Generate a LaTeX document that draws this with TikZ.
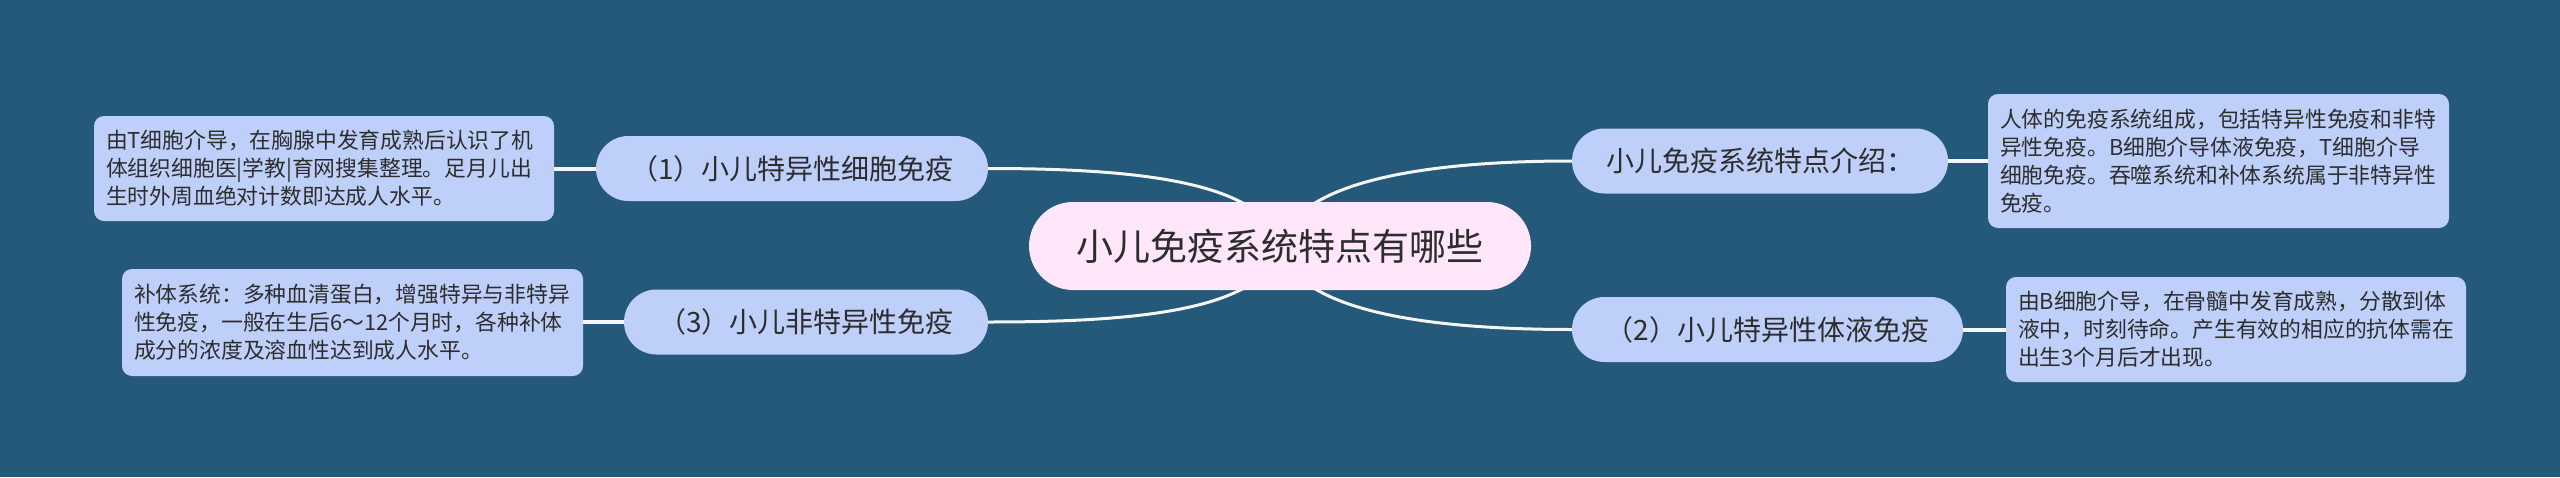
\documentclass[tikz,border=0pt]{standalone}
\usepackage{fontspec}
\setmainfont{Noto Sans CJK SC}
\definecolor{bgc}{RGB}{36,89,122}
\definecolor{nodec}{RGB}{190,208,250}
\definecolor{centc}{RGB}{255,230,250}
\definecolor{txtc}{RGB}{45,45,45}
\definecolor{linkc}{RGB}{245,245,245}
\pgfdeclarelayer{back}
\pgfdeclarelayer{links}
\pgfsetlayers{back,links,main}
\begin{document}
\begin{tikzpicture}[x=1pt,y=-1pt,
  centre/.style={fill=centc, text=txtc, rounded corners=44pt, minimum width=502pt, minimum height=88pt, inner sep=0pt, font=\fontsize{37}{44}\selectfont},
  topic/.style={fill=nodec, text=txtc, rounded corners=32.5pt, minimum height=65pt, inner sep=0pt, font=\fontsize{28}{34}\selectfont},
  leaf/.style={fill=nodec, text=txtc, rounded corners=10pt, inner xsep=12pt, inner ysep=0pt, align=left, font=\fontsize{21.8}{28}\selectfont},
  link/.style={draw=linkc, line width=3pt},
  leaflink/.style={draw=linkc, line width=4pt}]
\useasboundingbox (0,0) rectangle (2560,477);
\begin{pgfonlayer}{back}
\fill[bgc] (0,0) rectangle (2560,477);
\end{pgfonlayer}

\node[centre] (c) at (1280,246) {小儿免疫系统特点有哪些};

\node[topic, minimum width=392pt] (n1) at (792,168.5) {（1）小儿特异性细胞免疫};
\node[topic, minimum width=364pt] (n3) at (806,322) {（3）小儿非特异性免疫};
\node[topic, minimum width=376pt] (nr) at (1760,161) {小儿免疫系统特点介绍：};
\node[topic, minimum width=391pt] (n2) at (1767.5,329.5) {（2）小儿特异性体液免疫};

\node[leaf, text width=436pt, minimum height=105pt] (l1) at (324,168.5)
  {由T细胞介导，在胸腺中发育成熟后认识了机\\体组织细胞医|学教|育网搜集整理。足月儿出\\生时外周血绝对计数即达成人水平。};
\node[leaf, text width=437pt, minimum height=107pt] (l3) at (352.5,322.5)
  {补体系统：多种血清蛋白，增强特异与非特异\\性免疫，一般在生后6～12个月时，各种补体\\成分的浓度及溶血性达到成人水平。};
\node[leaf, text width=437pt, minimum height=134pt] (lr) at (2218.5,161)
  {人体的免疫系统组成，包括特异性免疫和非特\\异性免疫。B细胞介导体液免疫，T细胞介导\\细胞免疫。吞噬系统和补体系统属于非特异性\\免疫。};
\node[leaf, text width=436pt, minimum height=105pt] (l2) at (2236,329.5)
  {由B细胞介导，在骨髓中发育成熟，分散到体\\液中，时刻待命。产生有效的相应的抗体需在\\出生3个月后才出现。};

\begin{pgfonlayer}{links}
\draw[link] (c.center) .. controls (1265,180) and (1130,168.5) .. (n1.east);
\draw[link] (c.center) .. controls (1265,312) and (1130,322) .. (n3.east);
\draw[link] (c.center) .. controls (1295,180) and (1430,161) .. (nr.west);
\draw[link] (c.center) .. controls (1295,312) and (1430,329.5) .. (n2.west);
\draw[leaflink] (n1.west) -- (l1.east |- n1.west);
\draw[leaflink] (n3.west) -- (l3.east |- n3.west);
\draw[leaflink] (nr.east) -- (lr.west |- nr.east);
\draw[leaflink] (n2.east) -- (l2.west |- n2.east);
\end{pgfonlayer}
\end{tikzpicture}
\end{document}
